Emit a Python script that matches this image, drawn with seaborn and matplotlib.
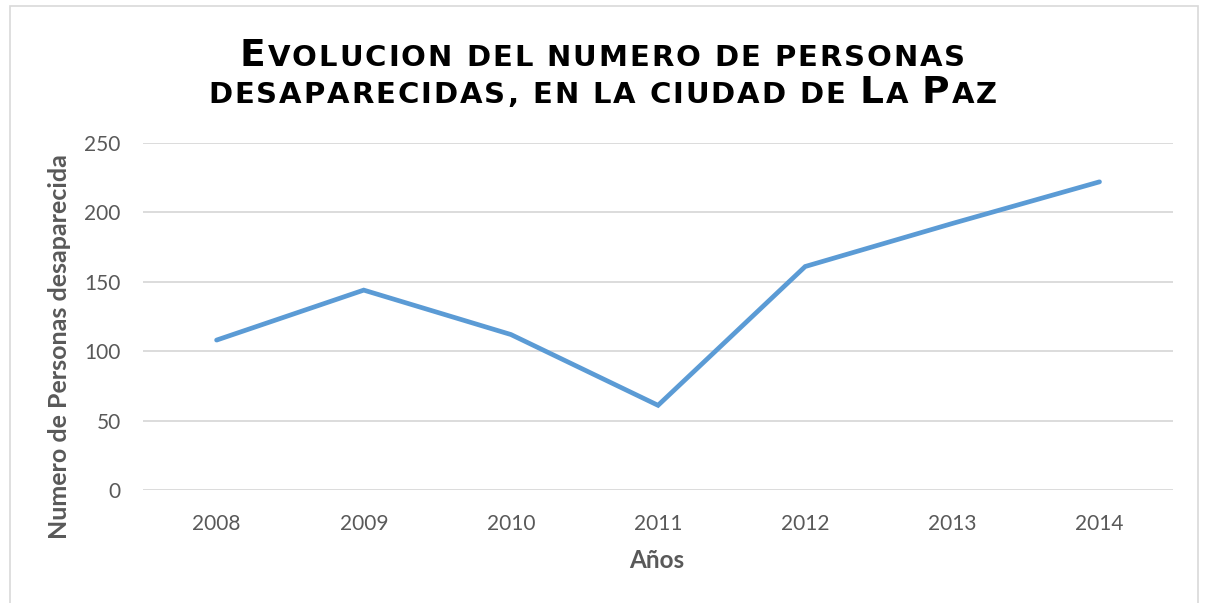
import pandas as pd
import matplotlib
matplotlib.use('Agg')
import matplotlib.pyplot as plt
import seaborn as sns
from matplotlib.offsetbox import TextArea, HPacker, AnchoredOffsetbox
from matplotlib.patches import Rectangle

# datos
anios = [2008, 2009, 2010, 2011, 2012, 2013, 2014]
personas = [108, 144, 112, 61, 161, 192, 222]
y_ticks = [0, 50, 100, 150, 200, 250]

titulo = ['Evolucion del numero de personas',
          'desaparecidas, en la ciudad de La Paz']
x_label = 'Años'
y_label = 'Numero de Personas desaparecida'

df = pd.DataFrame({'anio': anios, 'personas': personas})

sns.set_theme(style='white')
plt.rcParams['font.family'] = ['Lato', 'DejaVu Sans']

gris = '#595959'
azul = '#5B9BD5'

fig = plt.figure(figsize=(12.05, 6.03), dpi=100)
ax = fig.add_axes([0.1187, 0.1874, 0.8548, 0.5755])

sns.lineplot(data=df, x='anio', y='personas', ax=ax, color=azul,
             linewidth=3.4, solid_capstyle='round', solid_joinstyle='miter')

ax.set_xlim(anios[0] - 0.5, anios[-1] + 0.5)
ax.set_ylim(y_ticks[0], y_ticks[-1])
ax.set_xticks(anios)
ax.set_yticks(y_ticks)
ax.tick_params(axis='both', labelsize=15, colors=gris, length=0)
ax.tick_params(axis='x', pad=17)
ax.tick_params(axis='y', pad=16)
ax.grid(axis='y', color='#D9D9D9', linewidth=1.3)
ax.set_axisbelow(True)
for s in ax.spines.values():
    s.set_visible(False)
ax.set_xlabel('')
ax.set_ylabel('')

# etiquetas de ejes
fig.text(657 / 1205, 1 - 561 / 603, x_label, ha='center', va='center',
         fontsize=17.5, fontweight='bold', color=gris)
fig.text(60 / 1205, 1 - 347 / 603, y_label, ha='center', va='center',
         rotation=90, fontsize=18, fontweight='bold', color=gris)

# titulo en versalitas
fam_t = ['DejaVu Sans']


def versalitas(linea, grande, chica):
    trozos = []
    for ch in linea:
        tam = grande if ch.isupper() else chica
        trozos.append(TextArea(ch.upper(), textprops=dict(
            fontsize=tam, fontweight='bold', family=fam_t, color='black')))
    return HPacker(children=trozos, sep=1.4, pad=0, align='baseline')


for linea, yc in zip(titulo, [56, 93]):
    caja = versalitas(linea, 27, 21)
    anc = AnchoredOffsetbox(loc='center', child=caja, pad=0, borderpad=0,
                            frameon=False, bbox_to_anchor=(0.5, 1 - yc / 603),
                            bbox_transform=fig.transFigure)
    fig.add_artist(anc)

# borde del grafico
fig.add_artist(Rectangle((10 / 1205, -0.01), 1188 / 1205, 1 - 6 / 603 + 0.01,
                         transform=fig.transFigure, fill=False,
                         edgecolor='#D9D9D9', linewidth=1.2))

fig.savefig('out.png', dpi=100)
